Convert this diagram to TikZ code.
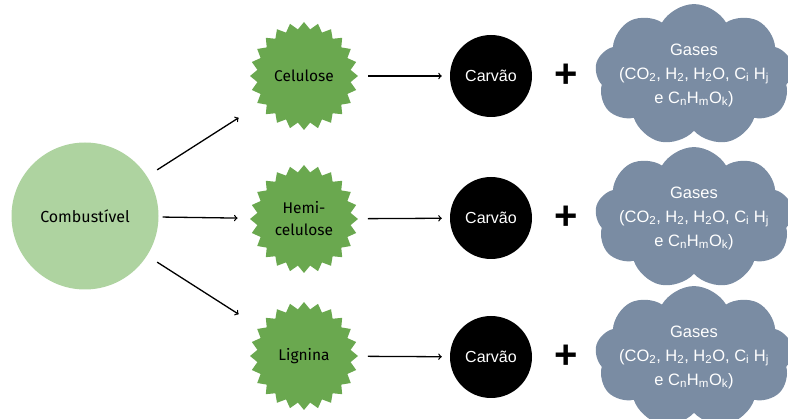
\documentclass[tikz,border=0pt]{standalone}
\usepackage{fontspec}
\setmainfont{Liberation Sans}
\newfontfamily\greenfont{Fira Sans}
\usetikzlibrary{arrows}
\usetikzlibrary{shapes.geometric}
\usetikzlibrary{shapes.symbols}
\definecolor{lightgreen}{HTML}{AED3A0}
\definecolor{stargreen}{HTML}{6AA84F}
\definecolor{cloudgrey}{HTML}{7A8CA3}
\tikzset{>=to}
\tikzset{fuel/.style = {circle, fill = lightgreen, minimum size = 147pt, inner sep = 0,
                        font = \greenfont\fontsize{16}{19}\selectfont}}
\tikzset{burst/.style = {star, star points = 24, star point ratio = 1.15, fill = stargreen,
                         minimum size = 108pt, inner sep = 0, align = center,
                         font = \greenfont\fontsize{15.5}{22}\selectfont}}
\tikzset{coal/.style = {circle, fill = black, text = white, minimum size = 82pt, inner sep = 0,
                        font = \fontsize{16}{19}\selectfont}}
\tikzset{gas/.style = {cloud, cloud puffs = 9, cloud puff arc = 120, aspect = 1.5, fill = cloudgrey,
                       text = white, minimum width = 198pt, minimum height = 130pt, inner sep = -14pt,
                       align = center, font = \fontsize{16.5}{24}\selectfont}}
\tikzset{plus/.style = {font = \bfseries\fontsize{40}{40}\selectfont, inner sep = 0}}
\tikzset{arr/.style = {->, line width = 1.3pt}}

\newcommand{\gastext}{Gases\\(CO\textsubscript{2}, H\textsubscript{2}, H\textsubscript{2}O, C\textsubscript{i} H\textsubscript{j}\\e C\textsubscript{n}H\textsubscript{m}O\textsubscript{k})}

\begin{document}
\begin{tikzpicture}[x = 1pt, y = -1pt]
      \useasboundingbox (0, 0) rectangle (788, 419);

      \node [fuel] (comb) at (85, 216) {Combustível};

      \node [burst] (cel) at (304, 76) {Celulose};
      \node [burst] (hemi) at (304, 219) {Hemi-\\celulose};
      \node [burst] (lig) at (304, 356) {Lignina};

      \node [coal] (carv1) at (491, 76) {Carvão};
      \node [coal] (carv2) at (491, 218) {Carvão};
      \node [coal] (carv3) at (491, 357) {Carvão};

      \node [plus] (plus1) at (566, 76) {+};
      \node [plus] (plus2) at (566, 218) {+};
      \node [plus] (plus3) at (566, 357) {+};

      \node [gas] (gas1) at (694, 75) {\gastext};
      \node [gas] (gas2) at (694, 218) {\gastext};
      \node [gas] (gas3) at (694, 357) {\gastext};

      \draw [arr, shorten <= 12pt, shorten >= 26pt] (comb) -- (cel);
      \draw [arr, shorten <= 4pt, shorten >= 13pt] (comb) -- (hemi);
      \draw [arr, shorten <= 12pt, shorten >= 26pt] (comb) -- (lig);

    % each fraction goes to carvao
      \draw [arr, shorten <= 10pt, shorten >= 8pt] (cel) -- (carv1);
      \draw [arr, shorten <= 10pt, shorten >= 8pt] (hemi) -- (carv2);
      \draw [arr, shorten <= 10pt, shorten >= 8pt] (lig) -- (carv3);
\end{tikzpicture}
\end{document}
